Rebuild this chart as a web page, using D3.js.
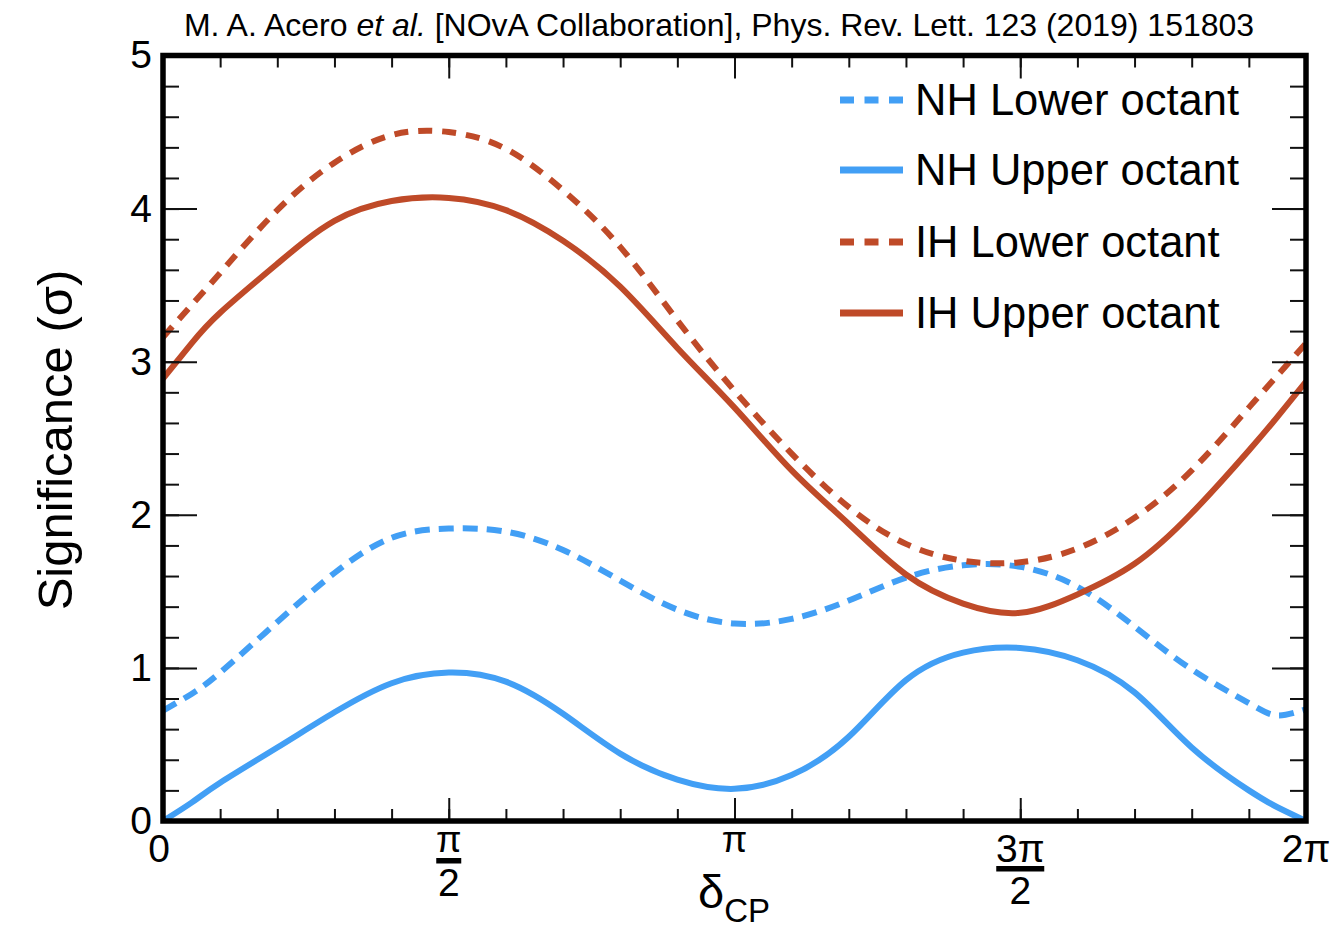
<!DOCTYPE html>
<html>
<head>
<meta charset="utf-8">
<script src="https://cdn.jsdelivr.net/npm/d3@7"></script>
<style>
  html, body { margin: 0; padding: 0; background: #fff; }
  svg { display: block; }
  text { font-family: "Liberation Sans", Arial, Helvetica, sans-serif; fill: #000; }
</style>
</head>
<body>
<script>
// δCP grid, in units of π
const deltaCP = [0, 0.05, 0.1, 0.2, 0.3, 0.4, 0.5, 0.6, 0.7, 0.8, 0.9, 1.0,
                 1.1, 1.2, 1.3, 1.4, 1.5, 1.6, 1.7, 1.8, 1.9, 1.95, 2.0];

// Significance (σ) of rejecting each hypothesis
const nhLower = [0.72, 0.83, 0.97, 1.30, 1.62, 1.85, 1.91, 1.89, 1.77, 1.57, 1.38, 1.29,
                 1.32, 1.44, 1.59, 1.67, 1.66, 1.53, 1.27, 0.99, 0.77, 0.69, 0.73];
const nhUpper = [0.00, 0.12, 0.25, 0.48, 0.71, 0.90, 0.97, 0.91, 0.70, 0.44, 0.27, 0.21,
                 0.30, 0.55, 0.92, 1.10, 1.13, 1.05, 0.84, 0.48, 0.20, 0.09, 0.00];
const ihLower = [3.16, 3.37, 3.58, 3.99, 4.30, 4.48, 4.50, 4.39, 4.12, 3.75, 3.27, 2.81,
                 2.40, 2.05, 1.81, 1.70, 1.69, 1.78, 1.98, 2.29, 2.70, 2.91, 3.12];
const ihUpper = [2.89, 3.12, 3.32, 3.64, 3.92, 4.05, 4.07, 3.99, 3.79, 3.49, 3.09, 2.70,
                 2.29, 1.94, 1.61, 1.42, 1.36, 1.48, 1.68, 2.01, 2.42, 2.64, 2.87];

const seriesNames = ["NH Lower octant", "NH Upper octant", "IH Lower octant", "IH Upper octant"];
const seriesValues = [nhLower, nhUpper, ihLower, ihUpper];

// axis ticks
const yMajorTicks = [0, 1, 2, 3, 4, 5];
const yMinorTicks = d3.range(0, 5.0001, 0.2).map(v => +v.toFixed(2));
const xMajorTicks = [0, 0.5, 1, 1.5, 2];
const xMinorTicks = d3.range(0, 2.0001, 0.1).map(v => +v.toFixed(2));
const xTickLabels = [
  { v: 0,   num: "0" },
  { v: 0.5, num: "π", den: "2" },
  { v: 1,   num: "π" },
  { v: 1.5, num: "3π", den: "2" },
  { v: 2,   num: "2π" }
];

const W = 1334, H = 931;
const BLUE = "#429ff5", RED = "#bf4a28";
const styles = [
  { color: BLUE, dash: "15,9" },
  { color: BLUE, dash: null },
  { color: RED,  dash: "14,10" },
  { color: RED,  dash: null }
];

const svg = d3.select("body").append("svg").attr("width", W).attr("height", H);

const x = d3.scaleLinear().domain([0, 2]).range([163, 1306]);
const y = d3.scaleLinear().domain([0, 5]).range([821, 55.5]);

// title
const title = svg.append("text")
  .attr("x", 719).attr("y", 36)
  .attr("text-anchor", "middle")
  .style("font-size", "32px");
title.append("tspan").text("M. A. Acero ");
title.append("tspan").style("font-style", "italic").text("et al.");
title.append("tspan").text(" [NOvA Collaboration], Phys. Rev. Lett. 123 (2019) 151803");

// clip for curves
svg.append("clipPath").attr("id", "plotArea")
  .append("rect")
  .attr("x", x(0)).attr("y", y(5))
  .attr("width", x(2) - x(0)).attr("height", y(0) - y(5));

const line = d3.line()
  .x((d, i) => x(deltaCP[i]))
  .y(d => y(d))
  .curve(d3.curveNatural);

const curves = svg.append("g").attr("clip-path", "url(#plotArea)");
seriesValues.forEach((vals, k) => {
  curves.append("path")
    .datum(vals)
    .attr("d", line)
    .attr("fill", "none")
    .attr("stroke", styles[k].color)
    .attr("stroke-width", 6)
    .attr("stroke-dasharray", styles[k].dash);
});

// ticks on all four sides, pointing inward
function tickGroup(axis, tx, ty) {
  const g = svg.append("g").attr("transform", `translate(${tx},${ty})`).call(axis);
  g.select(".domain").remove();
  g.selectAll(".tick line").attr("stroke", "#111").attr("stroke-width", 2);
  g.selectAll(".tick text").remove();
  return g;
}
tickGroup(d3.axisRight(y).tickValues(yMinorTicks).tickSize(16), x(0), 0);
tickGroup(d3.axisRight(y).tickValues(yMajorTicks).tickSize(34), x(0), 0);
tickGroup(d3.axisLeft(y).tickValues(yMinorTicks).tickSize(16), x(2), 0);
tickGroup(d3.axisLeft(y).tickValues(yMajorTicks).tickSize(34), x(2), 0);
tickGroup(d3.axisTop(x).tickValues(xMinorTicks).tickSize(12), 0, y(0));
tickGroup(d3.axisTop(x).tickValues(xMajorTicks).tickSize(23), 0, y(0));
tickGroup(d3.axisBottom(x).tickValues(xMinorTicks).tickSize(12), 0, y(5));
tickGroup(d3.axisBottom(x).tickValues(xMajorTicks).tickSize(23), 0, y(5));

// frame
svg.append("rect")
  .attr("x", x(0)).attr("y", y(5))
  .attr("width", x(2) - x(0)).attr("height", y(0) - y(5))
  .attr("fill", "none").attr("stroke", "#000").attr("stroke-width", 5.5);

// y tick labels
const yLab = svg.append("g").attr("transform", `translate(${x(0)},0)`)
  .call(d3.axisLeft(y).tickValues(yMajorTicks).tickSize(0).tickPadding(11).tickFormat(d3.format("d")));
yLab.select(".domain").remove();
yLab.selectAll(".tick text")
  .style("font-size", "39px")
  .style("font-family", "'Liberation Sans', Arial, Helvetica, sans-serif")
  .attr("fill", "#000");

// x tick labels (multiples of π, with stacked fractions)
const xl = svg.append("g");
xTickLabels.forEach(t => {
  const cx = x(t.v) - (t.v === 0 ? 4 : 0);
  if (!t.den) {
    const isPi = t.num === "π";
    xl.append("text")
      .attr("x", cx).attr("y", isPi ? 852 : 862)
      .attr("text-anchor", "middle")
      .style("font-size", isPi ? "37px" : "39px")
      .text(t.num);
  } else {
    const wide = t.num.length > 1;
    const numY = wide ? 862 : 852;
    const barY = wide ? 866 : 858;
    const barW = wide ? 48 : 25;
    xl.append("text")
      .attr("x", cx).attr("y", numY)
      .attr("text-anchor", "middle")
      .style("font-size", wide ? "39px" : "37px")
      .text(t.num);
    xl.append("rect")
      .attr("x", cx - barW / 2).attr("y", barY)
      .attr("width", barW).attr("height", 5.5)
      .attr("fill", "#000");
    xl.append("text")
      .attr("x", cx).attr("y", barY + 38)
      .attr("text-anchor", "middle")
      .style("font-size", "39px")
      .text(t.den);
  }
});

// x axis title
const xt = svg.append("text")
  .attr("x", 734).attr("y", 908)
  .attr("text-anchor", "middle");
xt.append("tspan").style("font-size", "47px").text("δ");
xt.append("tspan").attr("dy", 14).style("font-size", "33px").text("CP");

// y axis title
svg.append("text")
  .attr("transform", "translate(72,440) rotate(-90)")
  .attr("text-anchor", "middle")
  .style("font-size", "49px")
  .text("Significance (σ)");

// legend
const legRows = [100, 170, 242, 313];
const leg = svg.append("g");
seriesNames.forEach((name, k) => {
  leg.append("line")
    .attr("x1", 840).attr("x2", 903)
    .attr("y1", legRows[k]).attr("y2", legRows[k])
    .attr("stroke", styles[k].color)
    .attr("stroke-width", 7)
    .attr("stroke-dasharray", styles[k].dash ? "14,10.5" : null);
  leg.append("text")
    .attr("x", 915).attr("y", legRows[k] + 15)
    .style("font-size", "43.5px")
    .text(name);
});
</script>
</body>
</html>
